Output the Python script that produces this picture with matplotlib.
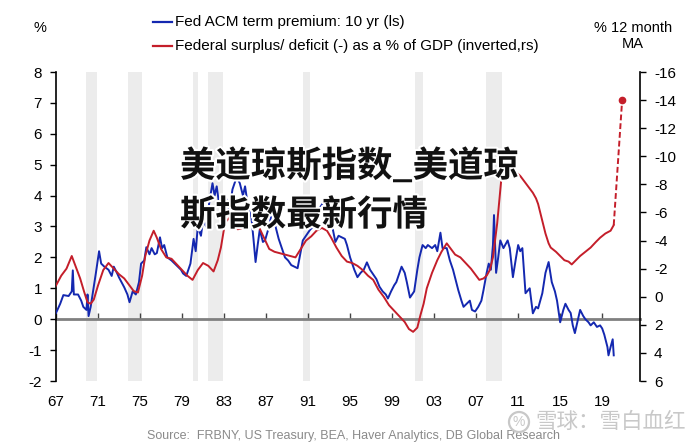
import matplotlib
matplotlib.use("Agg")
import matplotlib.pyplot as plt
import matplotlib.patheffects as pe
from matplotlib.patches import Ellipse

plt.rcParams['font.family'] = ['Liberation Sans', 'DejaVu Sans']
plt.rcParams['axes.unicode_minus'] = False

# ---------------- data ----------------
tp_years = [1967.0, 1967.4, 1967.7, 1968.2, 1968.5, 1968.6, 1968.7, 1969.1, 1969.4, 1969.6, 1969.9,
            1970.0, 1970.1, 1970.3, 1970.5, 1970.8, 1971.1, 1971.3, 1971.6, 1972.0, 1972.3, 1972.5,
            1972.8, 1973.0, 1973.5, 1973.8, 1974.0, 1974.3, 1974.6, 1974.9, 1975.1, 1975.4, 1975.6,
            1975.9, 1976.1, 1976.4, 1976.6, 1976.9, 1977.1, 1977.3, 1977.6, 1978.0, 1978.3, 1978.6,
            1978.9, 1979.1, 1979.4, 1979.8, 1980.1, 1980.3, 1980.5, 1980.8, 1981.0, 1981.3, 1981.6,
            1981.9, 1982.1, 1982.3, 1982.5, 1982.7, 1982.9, 1983.2, 1983.5, 1983.8, 1984.2, 1984.5,
            1984.8, 1985.0, 1985.3, 1985.6, 1985.8, 1986.0, 1986.2, 1986.4, 1986.7, 1986.9, 1987.2,
            1987.4, 1987.7, 1987.9, 1988.2, 1988.5, 1988.8, 1989.1, 1989.4, 1989.7, 1990.0, 1990.3,
            1990.5, 1990.8, 1991.2, 1991.5, 1991.8, 1992.1, 1992.4, 1992.7, 1993.0, 1993.3, 1993.6,
            1993.9, 1994.2, 1994.5, 1994.7, 1995.0, 1995.4, 1995.7, 1996.0, 1996.3, 1996.6, 1996.9,
            1997.2, 1997.5, 1997.8, 1998.1, 1998.4, 1998.6, 1998.9, 1999.2, 1999.4, 1999.7, 1999.9,
            2000.2, 2000.4, 2000.7, 2000.9, 2001.1, 2001.4, 2001.6, 2001.9, 2002.2, 2002.4, 2002.8,
            2003.1, 2003.3, 2003.6, 2003.8, 2004.2, 2004.5, 2004.8, 2005.1, 2005.3, 2005.6, 2005.8,
            2006.1, 2006.4, 2006.6, 2006.9, 2007.2, 2007.5, 2007.7, 2008.0, 2008.2, 2008.4, 2008.6,
            2008.7, 2008.9, 2009.1, 2009.3, 2009.6, 2010.0, 2010.2, 2010.5, 2010.8, 2011.0, 2011.2,
            2011.4, 2011.7, 2012.1, 2012.4, 2012.7, 2012.9, 2013.3, 2013.6, 2013.9, 2014.2, 2014.5,
            2014.7, 2015.0, 2015.3, 2015.5, 2015.8, 2016.0, 2016.2, 2016.4, 2016.7, 2016.9, 2017.2,
            2017.4, 2017.7, 2017.9, 2018.2, 2018.5, 2018.8, 2019.0, 2019.2, 2019.5, 2019.6, 2019.8,
            2020.0, 2020.1]
tp_values = [0.2, 0.5, 0.78, 0.75, 0.9, 1.58, 0.8, 0.8, 0.6, 0.4, 0.3,
             0.8, 0.1, 0.4, 0.84, 1.5, 2.2, 1.8, 1.7, 1.6, 1.4, 1.7,
             1.5, 1.35, 1.03, 0.8, 0.55, 0.9, 0.8, 1.2, 1.8, 1.9, 2.33,
             2.1, 2.3, 2.1, 2.14, 2.65, 2.3, 2.4, 2.0, 1.9, 1.8, 1.7,
             1.6, 1.48, 1.4, 1.8, 2.6, 2.2, 3.0, 2.7, 3.2, 3.0, 3.8,
             4.4, 4.0, 4.3, 3.8, 4.0, 3.6, 3.9, 3.5, 4.2, 4.6, 4.4,
             4.0, 4.3, 3.6, 3.3, 2.6, 1.85, 2.4, 2.9, 2.5, 2.55, 2.9,
             3.2, 3.7, 3.0, 2.6, 2.3, 2.0, 1.9, 1.75, 1.7, 1.65, 2.2,
             2.55, 2.7, 2.9, 3.0, 3.3, 3.6, 3.75, 3.4, 3.6, 3.0, 2.5,
             2.7, 2.65, 2.6, 2.4, 2.0, 1.6, 1.36, 1.5, 1.6, 1.84, 1.6,
             1.45, 1.3, 1.05, 0.9, 0.8, 0.67, 0.9, 1.1, 1.2, 1.5, 1.7,
             1.5, 1.2, 0.7, 0.8, 0.9, 1.6, 2.0, 2.4, 2.3, 2.4, 2.3,
             2.4, 2.2, 2.8, 2.3, 2.3, 1.9, 1.6, 1.2, 0.94, 0.6, 0.4,
             0.5, 0.6, 0.3, 0.25, 0.4, 0.6, 0.94, 1.5, 1.8, 1.6, 2.4,
             3.37, 1.5, 2.0, 2.55, 2.3, 2.55, 2.3, 1.36, 2.0, 2.4, 2.2,
             2.3, 0.84, 1.0, 0.19, 0.4, 0.35, 0.84, 1.5, 1.85, 1.2, 0.9,
             0.6, -0.1, 0.3, 0.5, 0.3, 0.2, -0.2, -0.45, 0.0, 0.3, 0.1,
             0.0, -0.1, -0.2, -0.1, -0.25, -0.2, -0.3, -0.5, -0.9, -1.17, -0.9,
             -0.65, -1.17]

def_years = [1967.0, 1967.5, 1968.0, 1968.5, 1968.8, 1969.3, 1969.7, 1970.0, 1970.3, 1970.6,
             1971.0, 1971.5, 1972.0, 1972.5, 1973.0, 1973.5, 1974.0, 1974.4, 1974.8, 1975.2,
             1975.5, 1975.9, 1976.3, 1976.6, 1977.0, 1977.5, 1978.0, 1978.5, 1979.0, 1979.5,
             1980.0, 1980.5, 1981.0, 1981.5, 1982.0, 1982.4, 1982.7, 1983.1, 1983.5, 1983.8,
             1984.3, 1984.8, 1985.3, 1985.8, 1986.3, 1986.8, 1987.3, 1987.8, 1988.3, 1988.8,
             1989.3, 1989.8, 1990.3, 1990.8, 1991.3, 1991.8, 1992.3, 1992.8, 1993.2, 1993.7,
             1994.2, 1994.7, 1995.2, 1995.7, 1996.2, 1996.7, 1997.2, 1997.7, 1998.2, 1998.7,
             1999.2, 1999.7, 2000.2, 2000.6, 2001.0, 2001.4, 2001.7, 2002.0, 2002.3, 2002.8,
             2003.3, 2003.7, 2004.2, 2004.6, 2005.0, 2005.5, 2006.0, 2006.5, 2007.0, 2007.3,
             2007.7, 2008.0, 2008.3, 2008.6, 2008.8, 2009.0, 2009.2, 2009.4, 2009.6, 2009.9,
             2010.1, 2010.4, 2010.6, 2010.9, 2011.2, 2011.4, 2011.8, 2012.1, 2012.4, 2012.7,
             2012.9, 2013.1, 2013.3, 2013.6, 2013.9, 2014.1, 2014.6, 2015.0, 2015.4, 2015.8,
             2016.1, 2016.5, 2016.9, 2017.4, 2017.9, 2018.4, 2018.8, 2019.3, 2019.8, 2020.1]
def_values = [-0.8, -1.5, -2.0, -2.9, -2.3, -1.3, -0.3, 0.4, 0.5, 0.2,
              -0.8, -1.9, -2.4, -2.0, -1.6, -1.3, -0.8, -0.4, -0.3, -1.5,
              -2.9, -4.0, -4.7, -4.2, -3.4, -2.8, -2.7, -2.3, -1.9, -1.5,
              -1.2, -1.9, -2.4, -2.2, -1.8, -2.6, -3.5, -5.3, -5.6, -5.1,
              -4.8, -4.9, -5.0, -5.2, -5.0, -4.2, -3.4, -3.2, -3.1, -3.0,
              -2.9, -2.8, -3.4, -4.0, -4.3, -4.7, -4.9, -4.7, -4.2, -3.5,
              -2.9, -2.5, -2.4, -2.2, -1.9, -1.5, -1.2, -0.5, 0.0, 0.6,
              1.0, 1.4, 1.8, 2.3, 2.5, 2.2, 1.3, 0.5, -0.6, -1.7,
              -2.6, -3.2, -3.8, -3.4, -3.0, -2.8, -2.4, -2.0, -1.5, -1.2,
              -1.3, -1.5, -1.9, -2.8, -4.0, -5.2, -6.8, -8.4, -9.2, -9.6,
              -9.3, -9.2, -9.0, -8.8, -8.6, -8.4, -8.0, -7.7, -7.4, -7.0,
              -6.6, -6.0, -5.4, -4.5, -3.8, -3.5, -3.2, -2.9, -2.6, -2.5,
              -2.3, -2.6, -2.9, -3.2, -3.5, -3.9, -4.2, -4.5, -4.7, -5.1]
proj_years = [2020.1, 2020.9]
proj_values = [-5.1, -14.0]

recessions = [(1969.9, 1970.9), (1973.9, 1975.2), (1980.0, 1980.5), (1981.5, 1982.9),
              (1990.5, 1991.2), (2001.2, 2001.9), (2007.9, 2009.5)]

x_ticks = [1967, 1971, 1975, 1979, 1983, 1987, 1991, 1995, 1999, 2003, 2007, 2011, 2015, 2019]
x_labels = ['67', '71', '75', '79', '83', '87', '91', '95', '99', '03', '07', '11', '15', '19']
left_ticks = [-2, -1, 0, 1, 2, 3, 4, 5, 6, 7, 8]
right_ticks = [-16, -14, -12, -10, -8, -6, -4, -2, 0, 2, 4, 6]

BLUE = '#1428b0'
RED = '#c41e2a'

# ---------------- figure ----------------
fig = plt.figure(figsize=(6.9, 4.44), dpi=100)
W, H = 690.0, 444.0
ax = fig.add_axes([56 / W, 1 - 381 / H, (640 - 56) / W, (381 - 72) / H])
ax.set_xlim(1967, 2022.6)
ax.set_ylim(-2, 8)

for a, b in recessions:
    ax.axvspan(a, b, color='#ececec', zorder=0, lw=0)

ax.plot(tp_years, tp_values, color=BLUE, lw=1.4, zorder=3)

ax.set_yticks(left_ticks)
ax.set_yticklabels([str(t) for t in left_ticks])
ax.tick_params(axis='y', direction='out', length=4, width=1, pad=6, labelsize=11)
ax.set_xticks(x_ticks)
ax.set_xticklabels(x_labels)
ax.tick_params(axis='x', length=0, pad=10, labelsize=11)
ax.spines['bottom'].set_visible(False)
ax.spines['top'].set_visible(False)
ax.spines['right'].set_visible(False)
ax.spines['left'].set_linewidth(1.2)

# zero line with ticks
zero_frac = (0 - (-2)) / (8 - (-2))
sec = ax.secondary_xaxis(zero_frac)
sec.set_xticks(x_ticks)
sec.tick_params(direction='in', length=4, width=1, color='#444444', labelbottom=False)
sec.spines['bottom'].set_color('#808080')
sec.spines['bottom'].set_linewidth(2)

ax2 = ax.twinx()
ax2.set_ylim(6, -16)
ax2.plot(def_years, def_values, color=RED, lw=1.4, zorder=3)
ax2.plot(proj_years, proj_values, color=RED, lw=1.4, ls=(0, (3, 1.5)), zorder=3)
ax2.plot(proj_years[-1:], proj_values[-1:], 'o', color=RED, ms=4.5, zorder=4)
ax2.set_yticks(right_ticks)
ax2.set_yticklabels([str(t) for t in right_ticks])
ax2.tick_params(axis='y', direction='out', length=4, width=1, pad=6, labelsize=11)
for s in ['top', 'bottom', 'left']:
    ax2.spines[s].set_visible(False)
ax2.spines['right'].set_linewidth(1.2)

# ---------------- header texts ----------------
fig.text(40 / W, 1 - 28 / H, '%', fontsize=10.5, ha='center', va='center')
fig.text(633 / W, 1 - 36 / H, '% 12 month\nMA', fontsize=10.5, ha='center', va='center',
         linespacing=1.25)
for yy, col, lab in [(22, BLUE, 'Fed ACM term premium: 10 yr (ls)'),
                     (46, RED, 'Federal surplus/ deficit (-) as a % of GDP (inverted,rs)')]:
    fig.add_artist(plt.Line2D([153 / W, 172 / W], [1 - yy / H, 1 - yy / H], color=col, lw=1.6,
                              transform=fig.transFigure))
    fig.text(175 / W, 1 - yy / H, lab, fontsize=11, ha='left', va='center')

fig.text(147 / W, 1 - 436 / H, 'Source:  FRBNY, US Treasury, BEA, Haver Analytics, DB Global Research',
         fontsize=9, color='#8a8a8a', ha='left', va='center')

# ---------------- overlay title ----------------
cjk = ['Noto Sans CJK SC', 'DejaVu Sans']
stroke = [pe.withStroke(linewidth=3, foreground='white')]
fig.text(180 / W, 1 - 166 / H, '美道琼斯指数_美道琼', fontsize=25.5, fontweight='black',
         family=cjk, ha='left', va='center', color='#111111', path_effects=stroke, zorder=10)
fig.text(180 / W, 1 - 215 / H, '斯指数最新行情', fontsize=25.5, fontweight='black',
         family=cjk, ha='left', va='center', color='#111111', path_effects=stroke, zorder=10)

# ---------------- watermark ----------------
fig.add_artist(Ellipse((519 / W, 1 - 422 / H), 20 / W, 20 / H, transform=fig.transFigure,
                       fill=False, ec='#c8c8c8', lw=1.6, zorder=10))
fig.text(519 / W, 1 - 422 / H, '%', fontsize=10, color='#c8c8c8', ha='center', va='center',
         zorder=10)
fig.text(535 / W, 1 - 422 / H, '雪球：雪白血红', fontsize=15.5, family=cjk, color='#c8c8c8',
         ha='left', va='center', zorder=10)

fig.savefig('out.png', dpi=100)
